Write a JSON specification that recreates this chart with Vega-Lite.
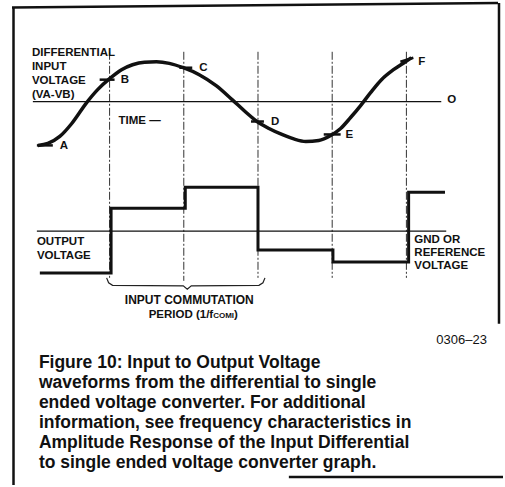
{
  "$schema": "https://vega.github.io/schema/vega-lite/v6.json",
  "width": 505,
  "height": 487,
  "autosize": {"type": "fit", "contains": "padding"},
  "padding": 0,
  "background": "white",
  "config": {"view": {"stroke": null}},
  "datasets": {
    "wave": [
      {"t": 0.034, "v": -1.10}, {"t": 0.168, "v": -1.05}, {"t": 0.329, "v": -0.875},
      {"t": 0.49, "v": -0.55}, {"t": 0.691, "v": -0.025}, {"t": 0.839, "v": 0.30},
      {"t": 1.0, "v": 0.575}, {"t": 1.161, "v": 0.80}, {"t": 1.309, "v": 0.925},
      {"t": 1.47, "v": 0.99}, {"t": 1.631, "v": 1.0}, {"t": 1.805, "v": 0.96},
      {"t": 1.993, "v": 0.85}, {"t": 2.208, "v": 0.675}, {"t": 2.436, "v": 0.40},
      {"t": 2.651, "v": 0.05}, {"t": 2.826, "v": -0.25}, {"t": 2.987, "v": -0.50},
      {"t": 3.148, "v": -0.675}, {"t": 3.322, "v": -0.825}, {"t": 3.483, "v": -0.9375},
      {"t": 3.644, "v": -1.0}, {"t": 3.819, "v": -0.975}, {"t": 3.98, "v": -0.85},
      {"t": 4.114, "v": -0.675}, {"t": 4.248, "v": -0.40}, {"t": 4.383, "v": -0.10},
      {"t": 4.517, "v": 0.225}, {"t": 4.664, "v": 0.55}, {"t": 4.826, "v": 0.80},
      {"t": 4.987, "v": 1.0}, {"t": 5.067, "v": 1.10}
    ],
    "output": [
      {"i": 0, "t": 0.06, "v": -4.30}, {"i": 1, "t": 1.02, "v": -4.30},
      {"i": 2, "t": 1.02, "v": -2.675}, {"i": 3, "t": 2.02, "v": -2.675},
      {"i": 4, "t": 2.02, "v": -2.15}, {"i": 5, "t": 3.0, "v": -2.15},
      {"i": 6, "t": 3.0, "v": -3.725}, {"i": 7, "t": 4.01, "v": -3.725},
      {"i": 8, "t": 4.01, "v": -4.025}, {"i": 9, "t": 5.03, "v": -4.025},
      {"i": 10, "t": 5.03, "v": -2.275}, {"i": 11, "t": 5.52, "v": -2.275}
    ],
    "brace": [
      {"i": 0, "t": 0.96, "v": -4.425}, {"i": 1, "t": 0.987, "v": -4.55},
      {"i": 2, "t": 1.04, "v": -4.6125}, {"i": 3, "t": 1.993, "v": -4.625},
      {"i": 4, "t": 2.047, "v": -4.7125}, {"i": 5, "t": 2.101, "v": -4.625},
      {"i": 6, "t": 3.013, "v": -4.6125}, {"i": 7, "t": 3.067, "v": -4.55},
      {"i": 8, "t": 3.094, "v": -4.425}
    ],
    "rules": [
      {"g": "frame", "t": -0.295, "t2": -0.295, "v": 2.375, "v2": -9.625},
      {"g": "frame", "t": -0.315, "t2": 6.235, "v": 2.3625, "v2": 2.475},
      {"g": "frame", "t": 6.248, "t2": 6.248, "v": 2.475, "v2": -5.575},
      {"g": "frame", "t": 3.416, "t2": 6.302, "v": -9.425, "v2": -9.425},
      {"g": "axis", "t": -0.034, "t2": 5.47, "v": 0, "v2": 0},
      {"g": "axis", "t": 0.02, "t2": 5.537, "v": -3.25, "v2": -3.25},
      {"g": "period", "t": 1, "t2": 1, "v": 1.25, "v2": -4.425},
      {"g": "period", "t": 2, "t2": 2, "v": 1.25, "v2": -4.5},
      {"g": "period", "t": 3, "t2": 3, "v": 1.25, "v2": -4.425},
      {"g": "period", "t": 4, "t2": 4, "v": 1.25, "v2": -4.425},
      {"g": "period", "t": 5, "t2": 5, "v": 1.25, "v2": -4.425},
      {"g": "tick", "t": 0.02, "t2": 0.235, "v": -1.10, "v2": -1.10},
      {"g": "tick", "t": 0.866, "t2": 1.067, "v": 0.55, "v2": 0.55},
      {"g": "tick", "t": 1.94, "t2": 2.114, "v": 0.85, "v2": 0.85},
      {"g": "tick", "t": 2.906, "t2": 3.08, "v": -0.50, "v2": -0.50},
      {"g": "tick", "t": 3.886, "t2": 4.114, "v": -0.825, "v2": -0.825},
      {"g": "tick", "t": 4.919, "t2": 5.094, "v": 1.0, "v2": 1.10}
    ],
    "labels": [
      {"g": "lbl", "t": -0.047, "v": 1.225, "text": "DIFFERENTIAL"},
      {"g": "lbl", "t": -0.047, "v": 0.875, "text": "INPUT"},
      {"g": "lbl", "t": -0.047, "v": 0.525, "text": "VOLTAGE"},
      {"g": "lbl", "t": -0.047, "v": 0.175, "text": "(VA-VB)"},
      {"g": "lbl", "t": 0.329, "v": -1.125, "text": "A"},
      {"g": "lbl", "t": 1.149, "v": 0.55, "text": "B"},
      {"g": "lbl", "t": 2.208, "v": 0.85, "text": "C"},
      {"g": "lbl", "t": 3.174, "v": -0.525, "text": "D"},
      {"g": "lbl", "t": 4.181, "v": -0.85, "text": "E"},
      {"g": "lbl", "t": 5.161, "v": 1.0, "text": "F"},
      {"g": "lbl", "t": 5.55, "v": 0.05, "text": "O"},
      {"g": "lbl", "t": 1.121, "v": -0.475, "text": "TIME  —"},
      {"g": "lbl", "t": 0.02, "v": -3.525, "text": "OUTPUT"},
      {"g": "lbl", "t": 0.02, "v": -3.875, "text": "VOLTAGE"},
      {"g": "lbl", "t": 5.107, "v": -3.475, "text": "GND OR"},
      {"g": "lbl", "t": 5.107, "v": -3.80, "text": "REFERENCE"},
      {"g": "lbl", "t": 5.107, "v": -4.125, "text": "VOLTAGE"},
      {"g": "ctr", "t": 2.074, "v": -4.975, "text": "INPUT COMMUTATION"},
      {"g": "right", "t": 2.396, "v": -5.35, "text": "PERIOD (1/f"},
      {"g": "sub", "t": 2.396, "v": -5.39, "text": "COMI"},
      {"g": "lbl", "t": 2.678, "v": -5.35, "text": ")"},
      {"g": "code", "t": 5.403, "v": -5.975, "text": "0306–23"},
      {"g": "cap", "t": 0.047, "v": -6.70, "text": "Figure 10: Input to Output Voltage"},
      {"g": "cap", "t": 0.047, "v": -7.20, "text": "waveforms from the differential to single"},
      {"g": "cap", "t": 0.047, "v": -7.70, "text": "ended voltage converter. For additional"},
      {"g": "cap", "t": 0.047, "v": -8.20, "text": "information, see frequency characteristics in"},
      {"g": "cap", "t": 0.047, "v": -8.70, "text": "Amplitude Response of the Input Differential"},
      {"g": "cap", "t": 0.047, "v": -9.20, "text": "to single ended voltage converter graph."}
    ]
  },
  "encoding": {
    "x": {"field": "t", "type": "quantitative", "scale": {"domain": [-0.477, 6.302], "nice": false, "zero": false}, "axis": null},
    "y": {"field": "v", "type": "quantitative", "scale": {"domain": [-9.625, 2.55], "nice": false, "zero": false}, "axis": null}
  },
  "layer": [
    {
      "data": {"name": "rules"},
      "transform": [{"filter": "datum.g === 'period'"}],
      "mark": {"type": "rule", "stroke": "#333", "strokeWidth": 1, "strokeDash": [8, 2, 2, 2]},
      "encoding": {"x2": {"field": "t2"}, "y2": {"field": "v2"}}
    },
    {
      "data": {"name": "rules"},
      "transform": [{"filter": "datum.g === 'axis'"}],
      "mark": {"type": "rule", "stroke": "#111", "strokeWidth": 1.2},
      "encoding": {"x2": {"field": "t2"}, "y2": {"field": "v2"}}
    },
    {
      "data": {"name": "rules"},
      "transform": [{"filter": "datum.g === 'frame'"}],
      "mark": {"type": "rule", "stroke": "#111", "strokeWidth": 2.5},
      "encoding": {"x2": {"field": "t2"}, "y2": {"field": "v2"}}
    },
    {
      "data": {"name": "rules"},
      "transform": [{"filter": "datum.g === 'tick'"}],
      "mark": {"type": "rule", "stroke": "#111", "strokeWidth": 2.5},
      "encoding": {"x2": {"field": "t2"}, "y2": {"field": "v2"}}
    },
    {
      "data": {"name": "wave"},
      "mark": {"type": "line", "stroke": "#111", "strokeWidth": 3.5, "interpolate": "monotone"},
      "encoding": {}
    },
    {
      "data": {"name": "output"},
      "mark": {"type": "line", "stroke": "#111", "strokeWidth": 3, "strokeJoin": "miter"},
      "encoding": {"order": {"field": "i", "type": "quantitative"}}
    },
    {
      "data": {"name": "brace"},
      "mark": {"type": "line", "stroke": "#222", "strokeWidth": 1.2},
      "encoding": {"order": {"field": "i", "type": "quantitative"}}
    },
    {
      "data": {"name": "labels"},
      "transform": [{"filter": "datum.g === 'lbl'"}],
      "mark": {"type": "text", "font": "Liberation Sans", "fontWeight": "bold", "fontSize": 11.5, "align": "left", "baseline": "middle", "fill": "#111"},
      "encoding": {"text": {"field": "text"}}
    },
    {
      "data": {"name": "labels"},
      "transform": [{"filter": "datum.g === 'ctr'"}],
      "mark": {"type": "text", "font": "Liberation Sans", "fontWeight": "bold", "fontSize": 12, "align": "center", "baseline": "middle", "fill": "#111"},
      "encoding": {"text": {"field": "text"}}
    },
    {
      "data": {"name": "labels"},
      "transform": [{"filter": "datum.g === 'right'"}],
      "mark": {"type": "text", "font": "Liberation Sans", "fontWeight": "bold", "fontSize": 11.5, "align": "right", "baseline": "middle", "fill": "#111"},
      "encoding": {"text": {"field": "text"}}
    },
    {
      "data": {"name": "labels"},
      "transform": [{"filter": "datum.g === 'sub'"}],
      "mark": {"type": "text", "font": "Liberation Sans", "fontWeight": "bold", "fontSize": 8, "align": "left", "baseline": "middle", "fill": "#111"},
      "encoding": {"text": {"field": "text"}}
    },
    {
      "data": {"name": "labels"},
      "transform": [{"filter": "datum.g === 'code'"}],
      "mark": {"type": "text", "font": "Liberation Sans", "fontSize": 13, "align": "left", "baseline": "middle", "fill": "#111"},
      "encoding": {"text": {"field": "text"}}
    },
    {
      "data": {"name": "labels"},
      "transform": [{"filter": "datum.g === 'cap'"}],
      "mark": {"type": "text", "font": "Liberation Sans", "fontWeight": "bold", "fontSize": 17.5, "align": "left", "baseline": "alphabetic", "fill": "#111"},
      "encoding": {"text": {"field": "text"}}
    }
  ]
}
